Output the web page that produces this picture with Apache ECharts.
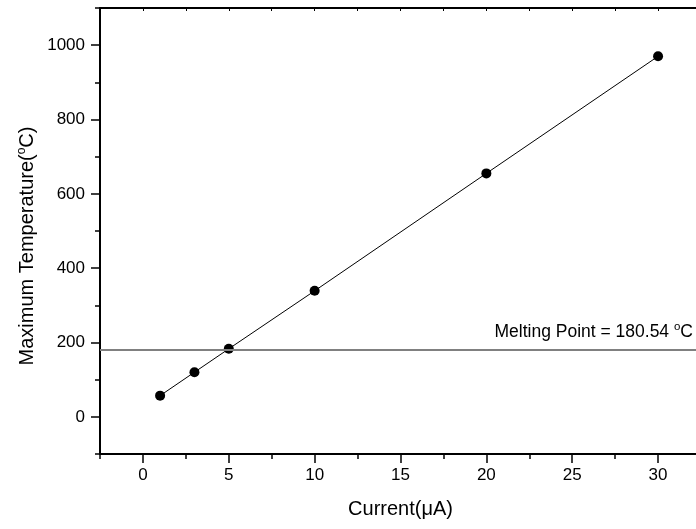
<!DOCTYPE html>
<html><head><meta charset="utf-8">
<script src="https://cdn.jsdelivr.net/npm/echarts@6/dist/echarts.min.js"></script>
<style>html,body{margin:0;padding:0;background:#fff;overflow:hidden}#c{width:701px;height:529px}</style>
</head><body><div id="c"></div>
<script>
const currents = [1, 3, 5, 10, 20, 30];
const maxTemps = [57, 120, 183, 339, 655, 970];
const meltingPoint = [180.54];
const xTickLabels = [0, 5, 10, 15, 20, 25, 30];
const yTickLabels = [0, 200, 400, 600, 800, 1000];

const FONT = '"Liberation Sans", Arial, sans-serif';
const TICK_FS = 17, TITLE_FS = 20;
const black = '#000';

const chart = echarts.init(document.getElementById('c'), null, {renderer: 'canvas'});
const xRange = {min: -2.5, max: 32.5};
const yRange = {min: -100, max: 1100};
const sup = {fontSize: 12, lineHeight: 12, padding: [0, 0, 10, 0], fontFamily: FONT, color: black, fill: black};

const option = {
  animation: false,
  backgroundColor: '#fff',
  grid: {left: 100, top: 8, right: 0, bottom: 75, containLabel: false},
  xAxis: [
    {
      type: 'value', ...xRange, position: 'bottom',
      axisLine: {show: true, onZero: false, lineStyle: {color: black, width: 2}},
      axisTick: {show: true, customValues: xTickLabels, length: 9, lineStyle: {color: black, width: 1.5}},
      axisLabel: {show: true, customValues: xTickLabels, margin: 13, color: black, fontFamily: FONT, fontSize: TICK_FS,
                  formatter: v => String(v)},
      splitLine: {show: false},
      name: 'Current(\u03BCA)', nameLocation: 'middle', nameGap: 45,
      nameTextStyle: {color: black, fontFamily: FONT, fontSize: TITLE_FS}
    },
    {
      type: 'value', ...xRange, interval: 2.5, position: 'bottom',
      axisLine: {show: false, onZero: false},
      axisTick: {show: true, length: 5, lineStyle: {color: black, width: 1.5}},
      axisLabel: {show: false}, splitLine: {show: false}
    },
    {
      type: 'value', ...xRange, interval: 2.5, position: 'top',
      axisLine: {show: true, onZero: false, lineStyle: {color: black, width: 2}},
      axisTick: {show: true, inside: true, length: 3, lineStyle: {color: black, width: 1}},
      axisLabel: {show: false}, splitLine: {show: false}
    }
  ],
  yAxis: [
    {
      type: 'value', ...yRange, position: 'left',
      axisLine: {show: true, onZero: false, lineStyle: {color: black, width: 2}},
      axisTick: {show: true, customValues: yTickLabels, length: 9, lineStyle: {color: black, width: 1.5}},
      axisLabel: {show: true, customValues: yTickLabels, margin: 15, color: black, fontFamily: FONT, fontSize: TICK_FS,
                  formatter: v => String(v)},
      splitLine: {show: false}
    },
    {
      type: 'value', ...yRange, interval: 100, position: 'left', offset: 0,
      axisLine: {show: false, onZero: false},
      axisTick: {show: true, length: 5, lineStyle: {color: black, width: 1.5}},
      axisLabel: {show: false}, splitLine: {show: false}
    }
  ],
  graphic: [{
    type: 'text', x: 27, y: 246, rotation: Math.PI / 2,
    style: {
      text: 'Maximum Temperature({s|o}C)',
      fill: black, font: TITLE_FS + 'px ' + FONT, lineHeight: 20,
      align: 'center', verticalAlign: 'middle',
      rich: {s: sup}
    }
  }],
  series: [{
    type: 'line',
    xAxisIndex: 0, yAxisIndex: 0,
    data: currents.map((c, i) => [c, maxTemps[i]]),
    symbol: 'circle', symbolSize: 10,
    itemStyle: {color: black},
    lineStyle: {color: black, width: 1},
    markLine: {
      silent: true,
      symbol: ['none', 'none'],
      lineStyle: {color: '#808080', width: 2, type: 'solid'},
      label: {
        show: true, position: 'insideEndTop', distance: [8, 9],
        formatter: 'Melting Point = ' + meltingPoint[0] + ' {s|o}C',
        color: black, fontFamily: FONT, fontSize: 17.5, lineHeight: 18,
        rich: {s: {fontSize: 11.5, lineHeight: 12, padding: [0, 0, 9, 0], fontFamily: FONT, color: black}}
      },
      data: [{yAxis: meltingPoint[0]}]
    }
  }]
};
chart.setOption(option);
</script>
</body></html>
